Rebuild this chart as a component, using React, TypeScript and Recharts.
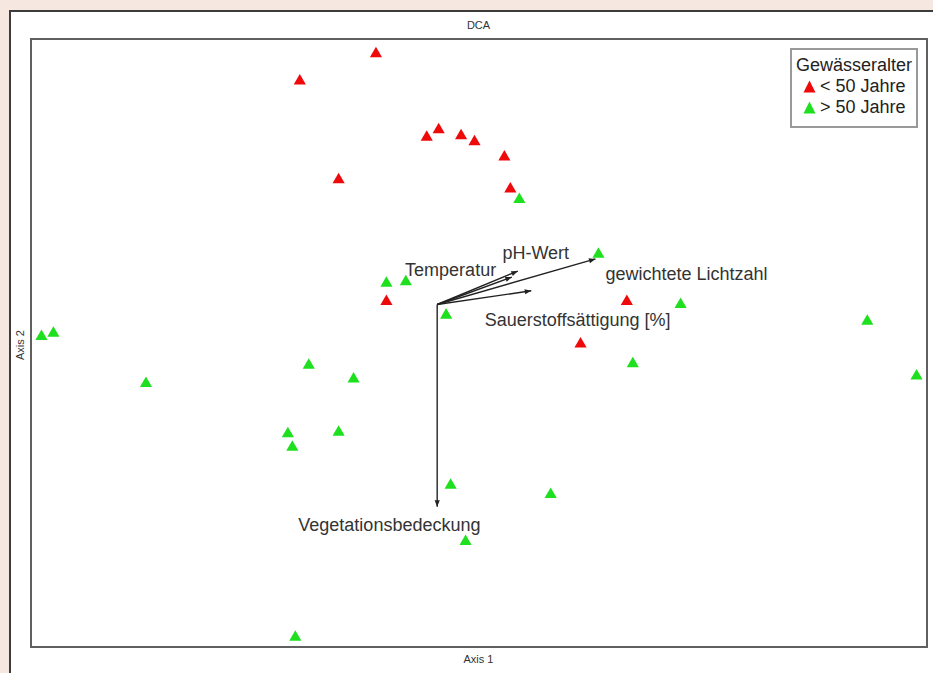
import { ScatterChart, Scatter, XAxis, YAxis, ZAxis, ReferenceLine, ReferenceDot } from 'recharts';

// DCA site scores (Axis 1, Axis 2)
const youngPonds = [
  { x: -0.69, y: 1.91 },
  { x: -1.2, y: 1.73 },
  { x: -0.35, y: 1.36 },
  { x: -0.27, y: 1.41 },
  { x: -0.12, y: 1.37 },
  { x: -0.03, y: 1.33 },
  { x: 0.17, y: 1.23 },
  { x: -0.94, y: 1.08 },
  { x: 0.21, y: 1.02 },
  { x: -0.62, y: 0.28 },
  { x: 0.99, y: 0.28 },
  { x: 0.68, y: 0.0 }
];

const oldPonds = [
  { x: 0.27, y: 0.95 },
  { x: 0.8, y: 0.59 },
  { x: -0.62, y: 0.4 },
  { x: -0.49, y: 0.41 },
  { x: -0.22, y: 0.19 },
  { x: 1.35, y: 0.26 },
  { x: 2.6, y: 0.15 },
  { x: -2.93, y: 0.05 },
  { x: -2.85, y: 0.07 },
  { x: -2.23, y: -0.26 },
  { x: -1.14, y: -0.14 },
  { x: -0.84, y: -0.23 },
  { x: 1.03, y: -0.13 },
  { x: 2.93, y: -0.21 },
  { x: -1.28, y: -0.59 },
  { x: -1.25, y: -0.68 },
  { x: -0.94, y: -0.58 },
  { x: -0.19, y: -0.93 },
  { x: 0.48, y: -0.99 },
  { x: -0.09, y: -1.3 },
  { x: -1.23, y: -1.93 }
];

// environmental vectors (fitted)
const vectorOrigin = { x: -0.28, y: 0.26 };
const vectorEnds = [
  { x: 0.26, y: 0.48 },
  { x: 0.22, y: 0.44 },
  { x: 0.78, y: 0.56 },
  { x: 0.35, y: 0.35 },
  { x: -0.28, y: -1.07 }
];
const vectorLabels = [
  { name: 'Temperatur', x: -0.19, y: 0.49 },
  { name: 'pH-Wert', x: 0.38, y: 0.6 },
  { name: 'gewichtete Lichtzahl', x: 1.39, y: 0.46 },
  { name: 'Sauerstoffsättigung [%]', x: 0.66, y: 0.16 },
  { name: 'Vegetationsbedeckung', x: -0.6, y: -1.19 }
];

const legendItems = [
  { label: '< 50 Jahre', color: '#ee0a0a' },
  { label: '> 50 Jahre', color: '#1ee01e' }
];

const RED = '#ee0a0a';
const GREEN = '#1ee01e';
const FONT = '"Liberation Sans", Arial, sans-serif';

function Arrow(props: any) {
  const { x1, y1, x2, y2 } = props;
  const ang = Math.atan2(y2 - y1, x2 - x1);
  const len = 7;
  const spread = 0.38;
  const ax = x2 - len * Math.cos(ang - spread);
  const ay = y2 - len * Math.sin(ang - spread);
  const bx = x2 - len * Math.cos(ang + spread);
  const by = y2 - len * Math.sin(ang + spread);
  return (
    <g>
      <line x1={x1} y1={y1} x2={x2} y2={y2} stroke="#222" strokeWidth={1.4} />
      <polygon points={`${x2},${y2} ${ax},${ay} ${bx},${by}`} fill="#222" />
    </g>
  );
}

function LegendBox() {
  return (
    <div
      style={{
        position: 'absolute',
        left: 790,
        top: 48,
        width: 128,
        height: 80,
        border: '2px solid #999',
        background: '#fff',
        fontSize: 18,
        color: '#222',
        boxSizing: 'border-box',
        paddingTop: 5,
        lineHeight: '21px'
      }}
    >
      <div style={{ textAlign: 'center' }}>Gewässeralter</div>
      {legendItems.map((it) => (
        <div key={it.label} style={{ display: 'flex', alignItems: 'center', paddingLeft: 11 }}>
          <svg width={13} height={13} style={{ marginRight: 4 }}>
            <polygon points="6.5,0.5 12.5,12.5 0.5,12.5" fill={it.color} />
          </svg>
          <span>{it.label}</span>
        </div>
      ))}
    </div>
  );
}

export default function App() {
  return (
    <div
      style={{
        position: 'absolute',
        left: 0,
        top: 0,
        width: 933,
        height: 673,
        overflow: 'hidden',
        background: '#f6e8e0',
        fontFamily: FONT
      }}
    >
      <div
        style={{
          position: 'absolute',
          left: 9,
          top: 10,
          width: 960,
          height: 700,
          background: '#fff',
          borderLeft: '2px solid #3c3c3c',
          borderTop: '2px solid #3c3c3c'
        }}
      />
      <div
        style={{
          position: 'absolute',
          left: 30,
          top: 38,
          width: 898,
          height: 610,
          border: '2px solid #606060',
          boxSizing: 'border-box'
        }}
      />
      <div style={{ position: 'absolute', left: 0, top: 19, width: 957, textAlign: 'center', fontSize: 11, color: '#333' }}>
        DCA
      </div>
      <div style={{ position: 'absolute', left: 0, top: 653, width: 957, textAlign: 'center', fontSize: 11, color: '#333' }}>
        Axis 1
      </div>
      <div
        style={{
          position: 'absolute',
          left: 20,
          top: 345,
          fontSize: 11,
          color: '#333',
          transform: 'translate(-50%, -50%) rotate(-90deg)',
          whiteSpace: 'nowrap'
        }}
      >
        Axis 2
      </div>
      <div style={{ position: 'absolute', left: 0, top: 0 }}>
        <ScatterChart width={933} height={673} margin={{ top: 40, left: 31, right: 6, bottom: 25 }}>
          <XAxis type="number" dataKey="x" domain={[-3, 3]} allowDataOverflow hide />
          <YAxis type="number" dataKey="y" domain={[-2, 2]} allowDataOverflow hide />
          <ZAxis range={[84, 84]} />
          {vectorEnds.map((e, i) => (
            <ReferenceLine
              key={`v-${i}`}
              segment={[vectorOrigin, e]}
              shape={(p: any) => <Arrow {...p} />}
            />
          ))}
          {vectorLabels.map((l) => (
            <ReferenceDot
              key={l.name}
              x={l.x}
              y={l.y}
              r={0}
              shape={(p: any) => (
                <text
                  x={p.cx}
                  y={p.cy}
                  textAnchor="middle"
                  dominantBaseline="central"
                  fontSize={18}
                  fontFamily={FONT}
                  fill="#333"
                >
                  {l.name}
                </text>
              )}
            />
          ))}
          <Scatter name="< 50 Jahre" data={youngPonds} fill={RED} shape="triangle" isAnimationActive={false} />
          <Scatter name="> 50 Jahre" data={oldPonds} fill={GREEN} shape="triangle" isAnimationActive={false} />
        </ScatterChart>
      </div>
      <LegendBox />
    </div>
  );
}
